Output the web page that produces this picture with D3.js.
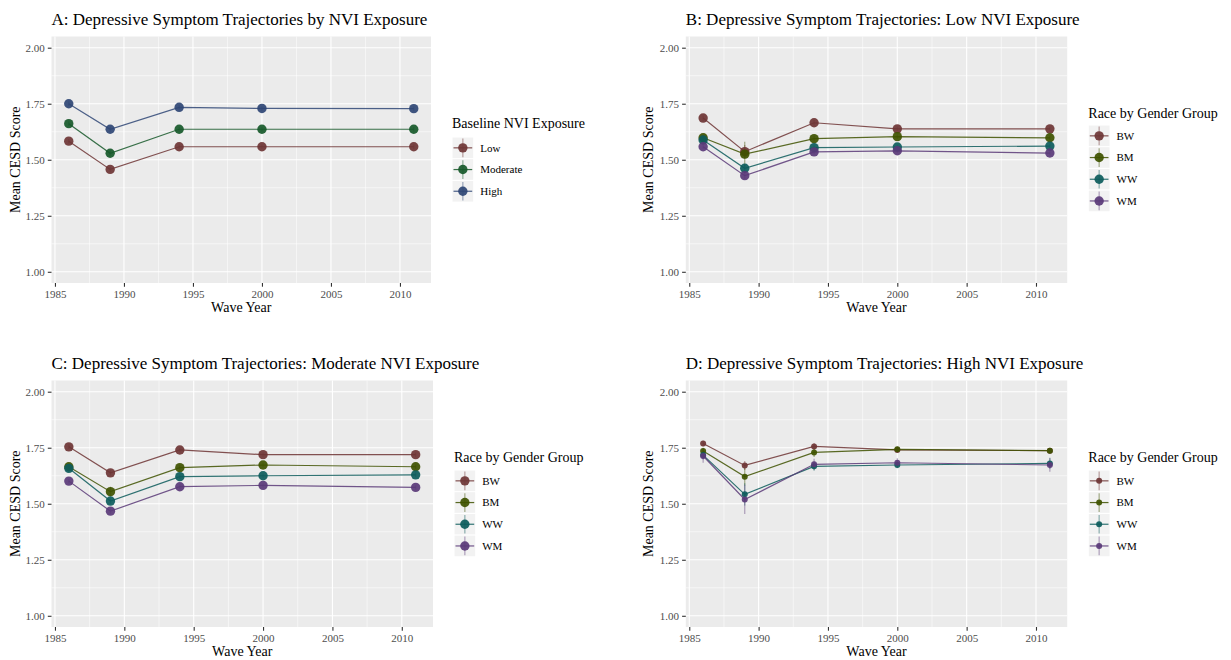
<!DOCTYPE html>
<html>
<head>
<meta charset="utf-8">
<script src="https://cdn.jsdelivr.net/npm/d3@7"></script>
<style>
  body { margin: 0; background: #fff; }
  svg text { font-family: "Liberation Serif", "Times New Roman", serif; }
  .tick-label { font-size: 11px; fill: #4d4d4d; }
  .axis-title { font-size: 14px; fill: #000; }
  .panel-title { font-size: 17px; fill: #000; }
  .legend-title { font-size: 14px; fill: #000; }
  .legend-label { font-size: 11px; fill: #000; }
</style>
</head>
<body>
<svg id="chart" width="1231" height="660"></svg>
<script>
// wave years and ticks
const years = [1986, 1989, 1994, 2000, 2011];
const xTicks = [1985, 1990, 1995, 2000, 2005, 2010];
const yTicks = [1.00, 1.25, 1.50, 1.75, 2.00];

const nviLevels = ["Low", "Moderate", "High"];
const groups = ["BW", "BM", "WW", "WM"];

// Panel A: by baseline NVI exposure
const aLow      = [1.583, 1.457, 1.558, 1.558, 1.558];
const aModerate = [1.661, 1.529, 1.636, 1.636, 1.636];
const aHigh     = [1.750, 1.636, 1.734, 1.729, 1.728];
const aErr = [
  [0.010, 0.012, 0.010, 0.010, 0.010],
  [0.010, 0.012, 0.010, 0.010, 0.010],
  [0.010, 0.012, 0.010, 0.010, 0.010]
];

// Panel B: low NVI exposure
const bBW = [1.686, 1.536, 1.665, 1.638, 1.638];
const bBM = [1.598, 1.525, 1.594, 1.603, 1.598];
const bWW = [1.588, 1.462, 1.554, 1.557, 1.561];
const bWM = [1.558, 1.429, 1.535, 1.540, 1.530];
const bErr = [
  [0.012, 0.030, 0.012, 0.010, 0.010],
  [0.012, 0.055, 0.012, 0.010, 0.010],
  [0.010, 0.015, 0.010, 0.010, 0.010],
  [0.010, 0.015, 0.010, 0.010, 0.010]
];

// Panel C: moderate NVI exposure
const cBW = [1.754, 1.638, 1.740, 1.719, 1.719];
const cBM = [1.665, 1.554, 1.661, 1.673, 1.665];
const cWW = [1.658, 1.512, 1.621, 1.625, 1.629];
const cWM = [1.601, 1.467, 1.576, 1.582, 1.573];
const cErr = [
  [0.010, 0.012, 0.010, 0.010, 0.010],
  [0.012, 0.022, 0.012, 0.010, 0.010],
  [0.010, 0.012, 0.010, 0.010, 0.010],
  [0.010, 0.012, 0.010, 0.010, 0.010]
];

// Panel D: high NVI exposure
const dBW = [1.769, 1.671, 1.756, 1.740, 1.737];
const dBM = [1.735, 1.621, 1.729, 1.743, 1.737];
const dWW = [1.717, 1.542, 1.667, 1.673, 1.680];
const dWM = [1.713, 1.519, 1.676, 1.683, 1.673];
const dErr = [
  [0.012, 0.020, 0.015, 0.012, 0.012],
  [0.015, 0.040, 0.020, 0.012, 0.012],
  [0.020, 0.050, 0.020, 0.015, 0.025],
  [0.030, 0.065, 0.025, 0.020, 0.030]
];

const nviColors = ["#6e3535", "#17592a", "#2f4675"];
const groupColors = ["#6e3535", "#3f5200", "#0d5c5c", "#5a3a78"];

const panels = [
  { title: "A: Depressive Symptom Trajectories by NVI Exposure",
    names: nviLevels, colors: nviColors, series: [aLow, aModerate, aHigh], err: aErr,
    left: 51.5, right: 431, top: 36.5, bottom: 283, ylabX: 15,
    legendTitle: "Baseline NVI Exposure", legendX: 452, legendTitleY: 128, keyTop: 137, r: 4.7 },
  { title: "B: Depressive Symptom Trajectories: Low NVI Exposure",
    names: groups, colors: groupColors, series: [bBW, bBM, bWW, bWM], err: bErr,
    left: 685.8, right: 1067.2, top: 36.5, bottom: 283, ylabX: 648,
    legendTitle: "Race by Gender Group", legendX: 1088.3, legendTitleY: 117.5, keyTop: 125, r: 4.7 },
  { title: "C: Depressive Symptom Trajectories: Moderate NVI Exposure",
    names: groups, colors: groupColors, series: [cBW, cBM, cWW, cWM], err: cErr,
    left: 51.5, right: 433, top: 380.5, bottom: 627, ylabX: 15,
    legendTitle: "Race by Gender Group", legendX: 454, legendTitleY: 461.5, keyTop: 470, r: 4.7 },
  { title: "D: Depressive Symptom Trajectories: High NVI Exposure",
    names: groups, colors: groupColors, series: [dBW, dBM, dWW, dWM], err: dErr,
    left: 685.8, right: 1067.2, top: 380.5, bottom: 627, ylabX: 648,
    legendTitle: "Race by Gender Group", legendX: 1088.3, legendTitleY: 461.5, keyTop: 470, r: 3 }
];

const svg = d3.select("#chart");
const keySize = 21.7;
const serif = '"Liberation Serif", "Times New Roman", serif';

function drawPanel(p) {
  const g = svg.append("g");

  const x = d3.scaleLinear().domain([1984.75, 2012.25]).range([p.left, p.right]);
  const y = d3.scaleLinear().domain([0.95, 2.05]).range([p.bottom, p.top]);

  // background
  g.append("rect")
    .attr("x", p.left).attr("y", p.top)
    .attr("width", p.right - p.left).attr("height", p.bottom - p.top)
    .attr("fill", "#ebebeb");

  // minor grid
  const yMinor = d3.range(1.125, 2.0, 0.25);
  const xMinor = d3.range(1987.5, 2012, 5);
  g.selectAll(".ymin").data(yMinor).enter().append("line")
    .attr("x1", p.left).attr("x2", p.right)
    .attr("y1", d => y(d)).attr("y2", d => y(d))
    .attr("stroke", "#fff").attr("stroke-width", 0.55);
  g.selectAll(".xmin").data(xMinor).enter().append("line")
    .attr("y1", p.top).attr("y2", p.bottom)
    .attr("x1", d => x(d)).attr("x2", d => x(d))
    .attr("stroke", "#fff").attr("stroke-width", 0.55);

  // major grid
  g.selectAll(".ymaj").data(yTicks).enter().append("line")
    .attr("x1", p.left).attr("x2", p.right)
    .attr("y1", d => y(d)).attr("y2", d => y(d))
    .attr("stroke", "#fff").attr("stroke-width", 1.1);
  g.selectAll(".xmaj").data(xTicks).enter().append("line")
    .attr("y1", p.top).attr("y2", p.bottom)
    .attr("x1", d => x(d)).attr("x2", d => x(d))
    .attr("stroke", "#fff").attr("stroke-width", 1.1);

  // axes (ggplot style: no domain line)
  const xAxis = g.append("g")
    .attr("transform", `translate(0,${p.bottom})`)
    .call(d3.axisBottom(x).tickValues(xTicks).tickFormat(d3.format("d")).tickSize(3.7).tickPadding(3.5));
  const yAxis = g.append("g")
    .attr("transform", `translate(${p.left},0)`)
    .call(d3.axisLeft(y).tickValues(yTicks).tickFormat(d3.format(".2f")).tickSize(3.7).tickPadding(3));
  [xAxis, yAxis].forEach(ax => {
    ax.attr("font-family", serif).attr("font-size", 11);
    ax.select(".domain").remove();
    ax.selectAll(".tick line").attr("stroke", "#333").attr("stroke-width", 1.1);
    ax.selectAll(".tick text")
      .style("font-family", serif)
      .style("font-size", "11px")
      .style("fill", "#4d4d4d");
  });

  // series
  const line = d3.line().x((d, i) => x(years[i])).y(d => y(d));
  p.series.forEach((vals, k) => {
    g.append("path")
      .datum(vals)
      .attr("d", line)
      .attr("fill", "none")
      .attr("stroke", p.colors[k])
      .attr("stroke-opacity", 0.85)
      .attr("stroke-width", 1.2);
  });
  p.series.forEach((vals, k) => {
    g.selectAll(null).data(vals).enter().append("line")
      .attr("x1", (d, i) => x(years[i])).attr("x2", (d, i) => x(years[i]))
      .attr("y1", (d, i) => y(d - p.err[k][i])).attr("y2", (d, i) => y(d + p.err[k][i]))
      .attr("stroke", p.colors[k])
      .attr("stroke-opacity", 0.45)
      .attr("stroke-width", 1.2);
  });
  p.series.forEach((vals, k) => {
    g.selectAll(null).data(vals).enter().append("circle")
      .attr("cx", (d, i) => x(years[i]))
      .attr("cy", d => y(d))
      .attr("r", p.r)
      .attr("fill", p.colors[k])
      .attr("fill-opacity", 0.92);
  });

  // titles
  g.append("text").attr("class", "panel-title")
    .attr("x", p.left).attr("y", p.top - 11.5)
    .text(p.title);
  g.append("text").attr("class", "axis-title")
    .attr("x", (p.left + p.right) / 2).attr("y", p.bottom + 28.5)
    .attr("text-anchor", "middle")
    .text("Wave Year");
  g.append("text").attr("class", "axis-title")
    .attr("transform", `translate(${p.ylabX + 5},${(p.top + p.bottom) / 2}) rotate(-90)`)
    .attr("text-anchor", "middle")
    .text("Mean CESD Score");

  // legend
  const lg = g.append("g");
  lg.append("text").attr("class", "legend-title")
    .attr("x", p.legendX).attr("y", p.legendTitleY)
    .text(p.legendTitle);
  p.names.forEach((name, k) => {
    const ky = p.keyTop + k * keySize;
    const cx = p.legendX + keySize / 2, cy = ky + keySize / 2;
    lg.append("rect")
      .attr("x", p.legendX).attr("y", ky)
      .attr("width", keySize).attr("height", keySize)
      .attr("fill", "#f2f2f2").attr("stroke", "#fff").attr("stroke-width", 1);
    lg.append("line")
      .attr("x1", p.legendX + 1.5).attr("x2", p.legendX + keySize - 1.5)
      .attr("y1", cy).attr("y2", cy)
      .attr("stroke", p.colors[k]).attr("stroke-opacity", 0.85).attr("stroke-width", 1.2);
    lg.append("line")
      .attr("x1", cx).attr("x2", cx)
      .attr("y1", ky + 1.5).attr("y2", ky + keySize - 1.5)
      .attr("stroke", p.colors[k]).attr("stroke-opacity", 0.45).attr("stroke-width", 1.2);
    lg.append("circle")
      .attr("cx", cx).attr("cy", cy).attr("r", p.r)
      .attr("fill", p.colors[k]).attr("fill-opacity", 0.92);
    lg.append("text").attr("class", "legend-label")
      .attr("x", p.legendX + keySize + 6.5).attr("y", cy)
      .attr("dy", "0.35em")
      .text(name);
  });
}

panels.forEach(drawPanel);
</script>
</body>
</html>
